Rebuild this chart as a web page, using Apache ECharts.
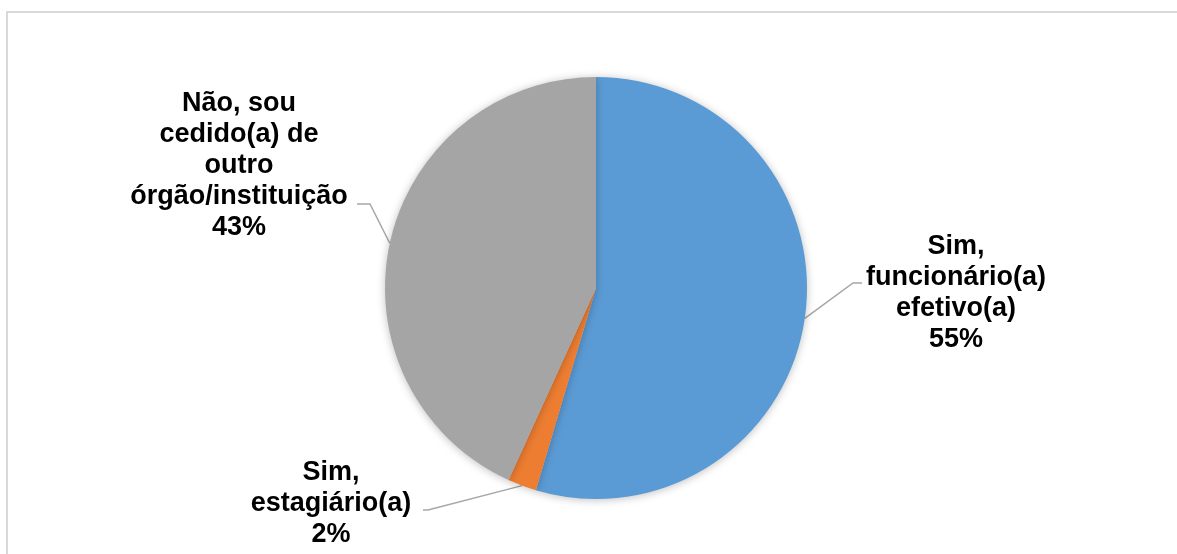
<!DOCTYPE html>
<html>
<head>
<meta charset="utf-8">
<script src="https://cdn.jsdelivr.net/npm/echarts@6/dist/echarts.min.js"></script>
<style>
  html, body { margin: 0; padding: 0; background: #fff; }
  #chart { width: 1177px; height: 554px; }
</style>
</head>
<body>
<div id="chart"></div>
<script>
var categories = ['Sim,\nfuncionário(a)\nefetivo(a)', 'Sim,\nestagiário(a)', 'Não, sou\ncedido(a) de\noutro\nórgão/instituição'];
var values = [54.6, 2.2, 43.2];
var colors = ['#5B9BD5', '#ED7D31', '#A5A5A5'];

// label centres and elbow points for the leader lines
var labelPos = [
    { x: 956, y: 293, elbow: [[853, 283], [862, 283]] },
    { x: 331, y: 504, elbow: [[428, 510], [423, 510]] },
    { x: 239, y: 166, elbow: [[370, 204], [357, 204]] }
];

var chart = echarts.init(document.getElementById('chart'));
var option = {
    backgroundColor: '#fff',
    animation: false,
    graphic: [{
        type: 'rect',
        shape: { x: 7, y: 12, width: 1190, height: 600 },
        style: { fill: 'none', stroke: '#d9d9d9', lineWidth: 2 },
        silent: true
    }],
    series: [{
        type: 'pie',
        center: [596, 288],
        radius: 211,
        startAngle: 90,
        clockwise: true,
        percentPrecision: 0,
        data: categories.map(function (c, i) {
            return { name: c, value: values[i], itemStyle: { color: colors[i] } };
        }),
        itemStyle: {
            borderWidth: 0,
            shadowBlur: 8,
            shadowColor: 'rgba(0,0,0,0.25)',
            shadowOffsetY: 1
        },
        label: {
            show: true,
            formatter: '{b}\n{d}%',
            fontFamily: 'Liberation Sans, Arial, sans-serif',
            fontWeight: 'bold',
            fontSize: 27,
            lineHeight: 31,
            color: '#000',
            align: 'center'
        },
        labelLine: {
            show: true,
            lineStyle: { color: '#a6a6a6', width: 1.5 }
        },
        labelLayout: function (params) {
            var p = labelPos[params.dataIndex];
            var start = params.labelLinePoints ? params.labelLinePoints[0] : p.elbow[0];
            return {
                x: p.x,
                y: p.y,
                align: 'center',
                verticalAlign: 'middle',
                labelLinePoints: [start, p.elbow[0], p.elbow[1]]
            };
        }
    }]
};
chart.setOption(option);
</script>
</body>
</html>
